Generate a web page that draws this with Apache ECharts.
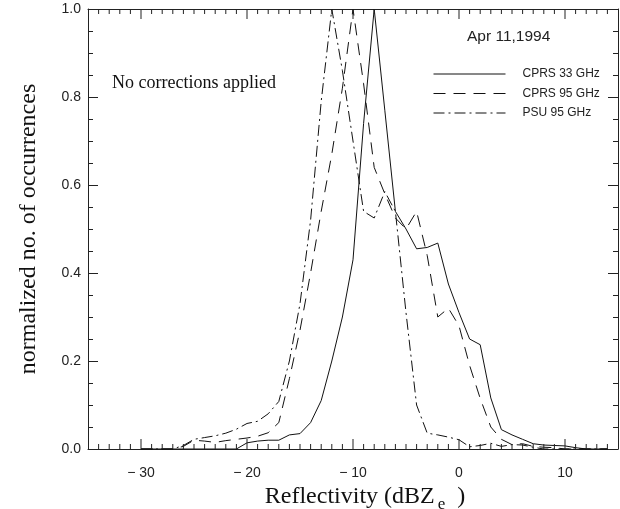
<!DOCTYPE html>
<html><head><meta charset="utf-8">
<script src="https://cdn.jsdelivr.net/npm/echarts@6/dist/echarts.min.js"></script>
<style>html,body{margin:0;padding:0;background:#fff}#c{width:620px;height:509px}</style>
</head><body><div id="c"></div>
<script>
// Reflectivity bins (dBZe)
const xBins = [-30,-29,-28,-27,-26,-25,-24,-23,-22,-21,-20,-19,-18,-17,-16,-15,-14,-13,-12,-11,-10,-9,-8,-7,-6,-5,-4,-3,-2,-1,0,1,2,3,4,5,6,7,8,9,10,11,12,13,14];
// normalized no. of occurrences
const cprs33 = [0,0,0,0,0,0,0,0,0,0,0.014,0.018,0.02,0.02,0.032,0.035,0.06,0.11,0.2,0.3,0.43,0.74,1.0,0.77,0.54,0.5,0.455,0.458,0.468,0.375,0.31,0.25,0.237,0.116,0.044,0.032,0.022,0.012,0.009,0.008,0.007,0.003,0,0,0];
const cprs95 = [0,0,0,0,0.006,0.02,0.018,0.015,0.019,0.022,0.025,0.029,0.037,0.06,0.16,0.27,0.4,0.54,0.67,0.82,1.0,0.83,0.64,0.58,0.525,0.5,0.54,0.44,0.3,0.32,0.28,0.19,0.115,0.05,0.022,0.01,0.012,0.006,0.004,0.003,0,0,0,0,0];
const psu95 = [0,0,0,0,0.008,0.022,0.026,0.03,0.036,0.045,0.058,0.063,0.08,0.108,0.2,0.33,0.52,0.79,1.0,0.86,0.7,0.54,0.525,0.585,0.54,0.31,0.1,0.036,0.032,0.027,0.021,0.005,0.008,0.013,0.006,0.01,0.009,0.004,0,0,0,0,0,0,0];
const seriesNames = ['CPRS 33 GHz','CPRS 95 GHz','PSU 95 GHz'];
// x-axis tick positions (dBZe)
const xMajorTicks = [-30,-20,-10,0,10];
const xMinorTicks = [-34,-33,-32,-31,-29,-28,-27,-26,-25,-24,-23,-22,-21,-19,-18,-17,-16,-15,-14,-13,-12,-11,-9,-8,-7,-6,-5,-4,-3,-2,-1,1,2,3,4,5,6,7,8,9,11,12,13,14];

const pairs = v => xBins.map((x,i)=>[x, v[i]]);
const sans = 'Liberation Sans, Arial, sans-serif';
const serif = 'Liberation Serif, Times New Roman, serif';
const ink = '#222';

function yAx(pos){
  return {type:'value', position:pos, min:0, max:1, interval:0.2, splitLine:{show:false},
    axisLine:{show:true, onZero:false, lineStyle:{color:ink}},
    axisTick:{show:true, inside:true, length:10, lineStyle:{color:ink}},
    minorTick:{show:true, splitNumber:4, length:5, lineStyle:{color:ink}},
    axisLabel:{show:false}};
}
const xBottom = {type:'value', position:'bottom', min:-35, max:15, interval:5, splitLine:{show:false},
  axisLine:{show:true, onZero:false, lineStyle:{color:ink}},
  axisTick:{show:false},
  axisLabel:{show:true, customValues:xMajorTicks, margin:17, color:ink, fontFamily:sans, fontSize:14,
    formatter: v => v < 0 ? '\u2212 ' + Math.abs(v) : String(v)},
  name:'{a|Reflectivity (dBZ}{b|e}{a|  )}', nameLocation:'middle', nameGap:24,
  nameTextStyle:{padding:[0,0,0,24], rich:{
    a:{fontFamily:serif, fontSize:24, color:'#111'},
    b:{fontFamily:serif, fontSize:17, color:'#111', padding:[16,0,0,3]}}}};
const xTop = {type:'value', position:'top', min:-35, max:15, interval:5, splitLine:{show:false},
  axisLine:{show:true, onZero:false, lineStyle:{color:ink}}, axisTick:{show:false}, axisLabel:{show:false}};
const yLeft = yAx('left');
yLeft.axisLabel = {show:true, color:ink, fontFamily:sans, fontSize:14, margin:7, formatter: v => v.toFixed(1)};
yLeft.name = 'normalized no. of occurrences';
yLeft.nameLocation = 'middle';
yLeft.nameRotate = 90;
yLeft.nameGap = 47;
yLeft.nameTextStyle = {fontFamily:serif, fontSize:24, color:'#111'};

// inward x ticks on the bottom and top frame, as rect symbols placed through the x axis scale
function tickItems(vals, len){
  const out = [];
  vals.forEach(v => {
    out.push({value:[v, 0], symbolSize:[1, len], symbolOffset:[0, -len / 2]});
    out.push({value:[v, 1], symbolSize:[1, len], symbolOffset:[0, len / 2]});
  });
  return out;
}
const tickData = tickItems(xMajorTicks, 10).concat(tickItems(xMinorTicks, 5));

const chart = echarts.init(document.getElementById('c'), null, {renderer:'canvas'});
chart.setOption({
  animation:false,
  backgroundColor:'#fff',
  grid:{left:88, right:2, top:9, bottom:60, show:false, outerBoundsMode:'none'},
  xAxis:[xBottom, xTop],
  yAxis:[yLeft, yAx('right')],
  legend:{
    orient:'vertical', left:433, top:68, padding:0, itemWidth:72, itemHeight:14, itemGap:7.5,
    itemStyle:{opacity:0}, lineStyle:{width:1},
    textStyle:{fontFamily:sans, fontSize:12, color:ink, padding:[0,0,0,12]},
    data:seriesNames
  },
  graphic:[
    {type:'text', x:467, y:37, style:{text:'Apr 11,1994', fontFamily:sans, fontSize:15.5, fill:ink, verticalAlign:'middle'}},
    {type:'text', x:112, y:83, style:{text:'No corrections applied', fontFamily:serif, fontSize:18, fill:'#111', verticalAlign:'middle'}}
  ],
  series:[
    {name:seriesNames[0], type:'line', xAxisIndex:0, yAxisIndex:0, data:pairs(cprs33), symbol:'none',
      lineStyle:{color:'#111', width:1, type:'solid'}, itemStyle:{color:'#111'}},
    {name:seriesNames[1], type:'line', xAxisIndex:0, yAxisIndex:0, data:pairs(cprs95), symbol:'none',
      lineStyle:{color:'#111', width:1, type:[12,8]}, itemStyle:{color:'#111'}},
    {name:seriesNames[2], type:'line', xAxisIndex:0, yAxisIndex:0, data:pairs(psu95), symbol:'none',
      lineStyle:{color:'#111', width:1, type:[11,4,2,4]}, itemStyle:{color:'#111'}},
    {name:'xticks', type:'scatter', xAxisIndex:0, yAxisIndex:0, data:tickData, symbol:'rect',
      itemStyle:{color:ink, opacity:1}, silent:true, clip:false, z:4, large:false,
      emphasis:{disabled:true}}
  ]
});
</script></body></html>
